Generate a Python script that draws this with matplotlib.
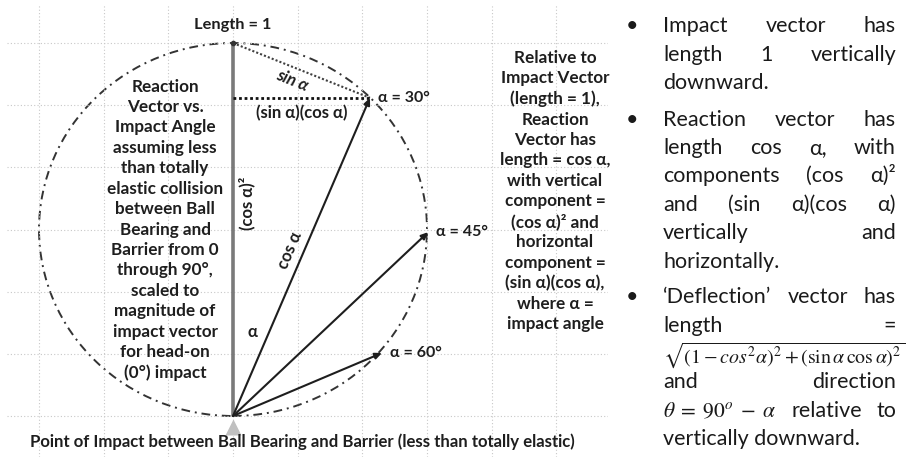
import numpy as np
import matplotlib
matplotlib.use('Agg')
import matplotlib.pyplot as plt
from matplotlib.patches import Circle

plt.rcParams['font.family'] = ['Lato', 'DejaVu Sans']
plt.rcParams['mathtext.fontset'] = 'stix'

# impact vector: vertical, length 1
impact_len = 1.0
# reaction vector tips
tip_x = [0.353, 0.503, 0.384]
tip_y = [0.853, 0.493, 0.169]
tip_labels = ['α = 30°', 'α = 45°', 'α = 60°']

left_note = ['Reaction', 'Vector vs.', 'Impact Angle', 'assuming less', 'than totally',
             'elastic collision', 'between Ball', 'Bearing and', 'Barrier from 0',
             'through 90°,', 'scaled to', 'magnitude of', 'impact vector',
             'for head-on', '(0°) impact']
mid_note = ['Relative to', 'Impact Vector', '(length = 1),', 'Reaction', 'Vector has',
            'length = cos α,', 'with vertical', 'component =', '(cos α)² and',
            'horizontal', 'component =', '(sin α)(cos α),', 'where α =', 'impact angle']
bottom_note = 'Point of Impact between Ball Bearing and Barrier (less than totally elastic)'

# right-hand bullet text: (line, justified?)
bullet1 = [('Impact vector has', True), ('length 1 vertically', True), ('downward.', False)]
bullet2 = [('Reaction vector has', True), ('length cos α, with', True),
           ('components (cos α)²', True), ('and (sin α)(cos α)', True),
           ('vertically and', True), ('horizontally.', False)]
bullet3 = [('‘Deflection’ vector has', True), ('length =', True),
           (r'$\sqrt{(1-cos^2\alpha)^2+(\sin\alpha\,\cos\alpha)^2}$', False),
           ('and direction', True), (r'$\theta\;=\;90^o\;-\;\alpha$ relative to', True),
           ('vertically downward.', False)]

W, H = 913, 457
fig = plt.figure(figsize=(W / 100, H / 100), dpi=100)
ax = fig.add_axes([7 / W, 0, 601 / W, 452 / H])
ax.set_xlim(-0.5825, 0.9665)
ax.set_ylim(-0.11, 1.102)
ax.set_xticks(np.arange(-3, 6) / 6)
ax.set_yticks(np.arange(0, 7) / 6)
ax.grid(True, ls=(0, (1, 2)), color='#c8c8c8', lw=0.8)
ax.tick_params(length=0, labelbottom=False, labelleft=False)
for s in ax.spines.values():
    s.set_visible(False)

ax.add_patch(Circle((0, impact_len / 2), impact_len / 2, fill=False, ec='#333333',
                    lw=1.4, ls=(0, (4.5, 2.5, 1, 2.5))))
ax.plot([0, 0], [0, impact_len], color='#7a7a7a', lw=2.6, solid_capstyle='butt')

for x, y, lab in zip(tip_x, tip_y, tip_labels):
    ax.annotate('', xy=(x, y), xytext=(0, 0),
                arrowprops=dict(arrowstyle='-|>,head_length=0.4,head_width=0.18',
                                color='#1e1e1e', lw=1.5, shrinkA=0, shrinkB=0))
    ax.annotate(lab, xy=(x, y), xytext=(6, 0), textcoords='offset points',
                ha='left', va='center', fontsize=11.5, fontweight='bold', color='#1e1e1e')

# components for the first tip
ax.plot([0, tip_x[0]], [impact_len, tip_y[0]], ls=(0, (1, 1)), color='#404040', lw=1.5)
ax.plot([0, tip_x[0]], [tip_y[0], tip_y[0]], ls=(0, (1, 1)), color='#111111', lw=2)
ax.plot(0, impact_len, marker='o', ms=3, color='#333333')
ax.plot(0, -0.03, marker='^', ms=11, color='#c0c0c0', mec='none', clip_on=False)

bold = dict(fontweight='bold', color='#1e1e1e')
ax.text(0, 1.048, 'Length = 1', ha='center', va='center', fontsize=11.8, **bold)
ax.text(0.152, 0.9, 'sin α', ha='center', va='center', fontsize=12, rotation=-22,
        style='italic', **bold)
ax.text(0.178, 0.812, '(sin α)(cos α)', ha='center', va='center', fontsize=12, **bold)
ax.text(0.036, 0.571, '(cos α)²', ha='center', va='center', fontsize=12, rotation=90, **bold)
ax.text(0.147, 0.445, 'cos α', ha='center', va='center', fontsize=12, rotation=67, **bold)
ax.text(0.049, 0.225, 'α', ha='center', va='center', fontsize=12, **bold)
ax.text(-0.175, 0.499, '\n'.join(left_note), ha='center', va='center', fontsize=12.3,
        linespacing=1.34, **bold)
ax.text(0.83, 0.603, '\n'.join(mid_note), ha='center', va='center', fontsize=12.3,
        linespacing=1.33, **bold)
ax.text(0.178, -0.07, bottom_note, ha='center', va='center', fontsize=12.1, **bold)

# right column, justified lines
renderer = fig.canvas.get_renderer()
x0, x1 = 663, 896
size = 15.5


def put_line(line, y_px, justify):
    fs = 14.3 if line.startswith(r'$\sqrt') else size
    tokens = line.split(' ') if justify else [line]
    if line.startswith(r'$\theta'):
        tokens = [line.split('$')[1].join('$$'), 'relative', 'to']
    objs = [fig.text(0, 1 - y_px / H, t, fontsize=fs, va='baseline', color='#1a1a1a')
            for t in tokens]
    widths = [o.get_window_extent(renderer).width for o in objs]
    gap = (x1 - x0 - sum(widths)) / (len(objs) - 1) if len(objs) > 1 else 0
    x = x0
    for o, w in zip(objs, widths):
        o.set_x(x / W)
        x += w + gap


baselines = [[32, 61, 89], [126, 154, 182, 211, 239, 268], [303, 332, 363, 388, 417, 445]]
for lines, ys in zip([bullet1, bullet2, bullet3], baselines):
    fig.text(632 / W, 1 - ys[0] / H, '•', ha='center', va='baseline', fontsize=size,
             color='#1a1a1a')
    for (line, just), y in zip(lines, ys):
        put_line(line, y, just)

fig.savefig('out.png', dpi=100)
